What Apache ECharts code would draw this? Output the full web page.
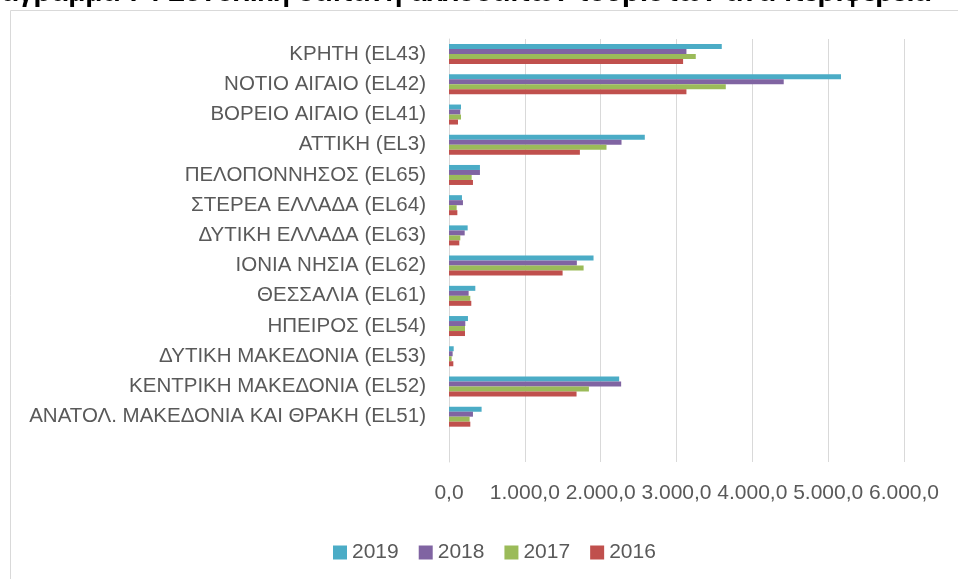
<!DOCTYPE html>
<html>
<head>
    <meta charset="UTF-8">
    <title>Δαπάνη ανά περιφέρεια</title>
    <script type="text/javascript" src="https://cdn.jsdelivr.net/npm/echarts@6/dist/echarts.min.js"></script>
    <style type="text/css">
        html, body {
            margin: 0;
            padding: 0;
            background: #fff;
        }
        #chart {
            width: 958px;
            height: 579px;
        }
    </style>
</head>
<body>
<div id="chart"></div>
<script type="text/javascript">
    // περιφέρειες από πάνω προς τα κάτω (η τελευταία κενή γραμμή όπως στο Excel)
    var regions = [
        'ΚΡΗΤΗ (EL43)',
        'ΝΟΤΙΟ ΑΙΓΑΙΟ (EL42)',
        'ΒΟΡΕΙΟ ΑΙΓΑΙΟ (EL41)',
        'ΑΤΤΙΚΗ (EL3)',
        'ΠΕΛΟΠΟΝΝΗΣΟΣ (EL65)',
        'ΣΤΕΡΕΑ ΕΛΛΑΔΑ (EL64)',
        'ΔΥΤΙΚΗ ΕΛΛΑΔΑ (EL63)',
        'ΙΟΝΙΑ ΝΗΣΙΑ (EL62)',
        'ΘΕΣΣΑΛΙΑ (EL61)',
        'ΗΠΕΙΡΟΣ (EL54)',
        'ΔΥΤΙΚΗ ΜΑΚΕΔΟΝΙΑ (EL53)',
        'ΚΕΝΤΡΙΚΗ ΜΑΚΕΔΟΝΙΑ (EL52)',
        'ΑΝΑΤΟΛ. ΜΑΚΕΔΟΝΙΑ ΚΑΙ ΘΡΑΚΗ (EL51)',
        ''
    ];

    var years = ['2019', '2018', '2017', '2016'];

    var values2019 = [3597, 5169, 158, 2582, 408, 171, 246, 1906, 347, 250, 62, 2244, 430, null];
    var values2018 = [3131, 4414, 149, 2275, 408, 184, 207, 1686, 259, 215, 48, 2270, 316, null];
    var values2017 = [3254, 3650, 158, 2077, 299, 101, 149, 1775, 281, 211, 35, 1845, 272, null];
    var values2016 = [3087, 3131, 119, 1726, 316, 110, 136, 1498, 294, 211, 57, 1682, 281, null];

    var xTicks = [0, 1000, 2000, 3000, 4000, 5000, 6000];

    var colors = ['#4BACC6', '#8064A2', '#9BBB59', '#C0504D'];

    // 1234.5 -> "1.234,5"
    function fmt(v) {
        var s = v.toFixed(1).split('.');
        var int = s[0].replace(/\B(?=(\d{3})+(?!\d))/g, '.');
        return int + ',' + s[1];
    }

    var allValues = [values2019, values2018, values2017, values2016];
    var series = years.map(function (y, i) {
        return {
            name: y,
            type: 'bar',
            barWidth: 5,
            barGap: '0%',
            itemStyle: {color: colors[i]},
            data: allValues[i]
        };
    });

    var font = '"Liberation Sans", Arial, sans-serif';

    var chart = echarts.init(document.getElementById('chart'));
    chart.setOption({
        animation: false,
        color: colors,
        // ο τίτλος είναι κομμένος από πάνω, όπως στην εικόνα
        title: {
            text: 'Διάγραμμα 7 : Συνολική δαπάνη αλλοδαπών τουριστών ανά περιφέρεια',
            right: 27,
            top: -21,
            padding: 0,
            textStyle: {fontFamily: font, fontSize: 28, fontWeight: 'bold', color: '#000'}
        },
        graphic: [{
            type: 'rect',
            shape: {x: 10.5, y: 10.5, width: 960, height: 600},
            style: {fill: 'none', stroke: '#d9d9d9', lineWidth: 1},
            z: -1
        }],
        legend: {
            data: years,
            left: 328,
            top: 537,
            icon: 'rect',
            itemWidth: 14,
            itemHeight: 14,
            itemGap: 20,
            textStyle: {fontFamily: font, fontSize: 21, color: '#595959'}
        },
        grid: {
            left: 449,
            right: 54,
            top: 39,
            bottom: 117,
            containLabel: false
        },
        xAxis: {
            type: 'value',
            min: xTicks[0],
            max: xTicks[xTicks.length - 1],
            interval: 1000,
            axisLine: {show: false},
            axisTick: {show: false},
            splitLine: {lineStyle: {color: '#d9d9d9', width: 1}},
            axisLabel: {
                margin: 21,
                fontFamily: font,
                fontSize: 21,
                color: '#595959',
                formatter: fmt
            }
        },
        yAxis: {
            type: 'category',
            inverse: true,
            data: regions,
            axisLine: {show: true, lineStyle: {color: '#d9d9d9'}},
            axisTick: {show: false},
            axisLabel: {
                margin: 23,
                fontFamily: font,
                fontSize: 20.5,
                color: '#595959'
            }
        },
        series: series
    });
</script>
</body>
</html>
